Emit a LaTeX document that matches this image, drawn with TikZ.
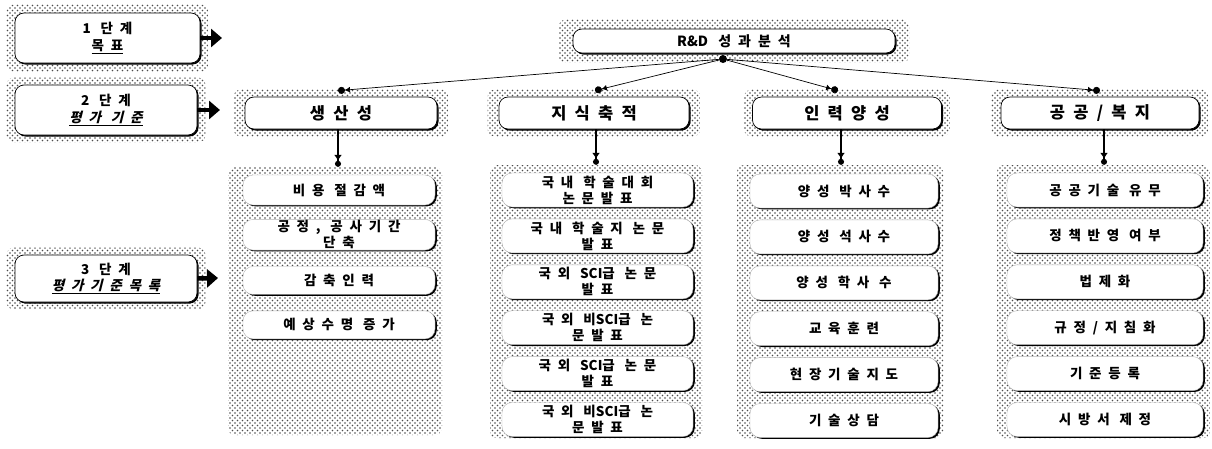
\documentclass[tikz,border=0pt]{standalone}
\usepackage{fontspec}
\setmainfont[LetterSpace=50]{Noto Sans CJK KR}
\newfontfamily\krslant[FakeSlant=0.25,LetterSpace=50]{Noto Sans CJK KR}
\newfontfamily\nols{Noto Sans CJK KR}
\usetikzlibrary{arrows.meta, positioning, patterns, shadows, fit, backgrounds}
\pgfdeclarepatternformonly{stipple}{\pgfqpoint{-1pt}{-1pt}}{\pgfqpoint{5pt}{5pt}}{\pgfqpoint{5pt}{5pt}}
{\pgfpathcircle{\pgfqpoint{0pt}{0pt}}{0.8pt}\pgfpathcircle{\pgfqpoint{2.5pt}{2.5pt}}{0.8pt}\pgfusepath{fill}}

\begin{document}
\begin{tikzpicture}[x=1pt, y=-1pt,
    dotbg/.style={rectangle, rounded corners=7pt, pattern=stipple,
                  pattern color=black!70, inner sep=0pt},
    head/.style={rectangle, rounded corners=9pt, fill=white, draw=black,
                 line width=0.7pt, inner sep=0pt,
                 drop shadow={shadow xshift=1.5pt, shadow yshift=-1.5pt, opacity=1, fill=black}},
    item/.style={rectangle, rounded corners=10pt, fill=white, draw=black!30,
                 line width=0.4pt, inner sep=1pt, align=center,
                 minimum height=34pt, font=\fontsize{13.5}{16}\selectfont\bfseries,
                 drop shadow={shadow xshift=1.8pt, shadow yshift=-1.3pt, opacity=1, fill=black}},
    stagebox/.style={head, align=center, minimum width=185pt,
                     font=\fontsize{13.5}{16.5}\selectfont\bfseries},
    link/.style={line width=0.7pt, -{Latex[length=5pt,width=6pt]Circle[length=7pt]}},
    down/.style={line width=1.2pt, -{Latex[length=6pt,width=8pt]Circle[length=6pt]}},
    stagearr/.style={line width=4.5pt, -{Triangle[length=11pt,width=18pt]}},
    node distance=11.5pt
]

% --- white frame of the page ---
\useasboundingbox (0,0) rectangle (1212,448);

% --- stages (left column) ---
\node[stagebox, minimum height=50pt] (s1) at (107.5,38)
    {1 단계\\\underline{목표}};
\node[stagebox, minimum height=50pt, minimum width=182pt] (s2) at (106,110)
    {2 단계\\\underline{\krslant 평가 기준}};
\node[stagebox, minimum height=47pt, minimum width=182pt] (s3) at (106,278.5)
    {3 단계\\\underline{\krslant 평가기준목록}};

\coordinate (s1_tip) at (222,38);
\coordinate (s2_tip) at (220,110);
\coordinate (s3_tip) at (218,278);

% --- goal ---
\node[head, minimum width=322pt, minimum height=24pt,
      font=\fontsize{14}{16}\selectfont\bfseries] (goal) at (734,41) {{\nols R\&D} 성과분석};
\node[circle, fill=black, inner sep=0pt, minimum size=8pt] (hub) at (723,59) {};

% --- criteria ---
\node[head, minimum width=192pt, minimum height=32pt,
      font=\fontsize{16.5}{18}\selectfont\bfseries] (prod) at (341,113) {생산성};
\node[head, minimum width=190pt, minimum height=32pt,
      font=\fontsize{16.5}{18}\selectfont\bfseries] (know) at (594,113) {지식축적};
\node[head, minimum width=189pt, minimum height=32pt,
      font=\fontsize{16.5}{18}\selectfont\bfseries] (hrd) at (847,113) {인력양성};
\node[head, minimum width=198pt, minimum height=32pt,
      font=\fontsize{16.5}{18}\selectfont\bfseries] (pub) at (1100,113) {공공/복지};

% --- item panels ---
\node[dotbg, minimum width=214pt, minimum height=268pt] (p1) at (335,301) {};
\node[dotbg, minimum width=212pt, minimum height=273pt] (p2) at (596,301.5) {};
\node[dotbg, minimum width=206pt, minimum height=273pt] (p3) at (840,301.5) {};
\node[dotbg, minimum width=213pt, minimum height=273pt] (p4) at (1103.5,301.5) {};

% productivity
\node[item, minimum width=192pt, minimum height=30pt,
      below=8pt of p1.north, xshift=4pt] (p1a) {비용 절감액};
\node[item, minimum width=192pt, minimum height=30pt, below=14pt of p1a] (p1b)
    {공정, 공사기간\\단축};
\node[item, minimum width=192pt, minimum height=28pt, below=16pt of p1b] (p1c) {감축인력};
\node[item, minimum width=192pt, minimum height=28pt, below=16pt of p1c] (p1d) {예상수명 증가};

% knowledge
\node[item, minimum width=191pt, below=8pt of p2.north, xshift=1.5pt] (p2a)
    {국내 학술대회\\논문발표};
\node[item, minimum width=191pt, below=of p2a] (p2b) {국내 학술지 논문\\발표};
\node[item, minimum width=191pt, below=of p2b] (p2c) {국외 {\nols SCI}급 논문\\발표};
\node[item, minimum width=191pt, below=of p2c] (p2d) {국외 비{\nols SCI}급 논\\문발표};
\node[item, minimum width=191pt, below=of p2d] (p2e) {국외 {\nols SCI}급 논문\\발표};
\node[item, minimum width=191pt, below=of p2e] (p2f) {국외 비{\nols SCI}급 논\\문발표};

% human resources
\node[item, minimum width=188pt, below=9pt of p3.north, xshift=4pt] (p3a) {양성 박사수};
\node[item, minimum width=188pt, below=of p3a] (p3b) {양성 석사수};
\node[item, minimum width=188pt, below=of p3b] (p3c) {양성 학사 수};
\node[item, minimum width=188pt, below=of p3c] (p3d) {교육훈련};
\node[item, minimum width=188pt, below=of p3d] (p3e) {현장기술지도};
\node[item, minimum width=188pt, below=of p3e] (p3f) {기술상담};

% public welfare
\node[item, minimum width=196pt, below=8pt of p4.north, xshift=1.5pt] (p4a) {공공기술 유무};
\node[item, minimum width=196pt, below=of p4a] (p4b) {정책반영 여부};
\node[item, minimum width=196pt, below=of p4b] (p4c) {법제화};
\node[item, minimum width=196pt, below=of p4c] (p4d) {규정/지침화};
\node[item, minimum width=196pt, below=of p4d] (p4e) {기준등록};
\node[item, minimum width=196pt, below=of p4e] (p4f) {시방서 제정};

% --- dotted shadows behind the boxes ---
\begin{pgfonlayer}{background}
\node[dotbg, fit=(s1), inner xsep=8pt, inner ysep=8pt] (s1_bg) {};
\node[dotbg, fit=(s2), inner xsep=8pt, inner ysep=7pt] (s2_bg) {};
\node[dotbg, fit=(s3), inner xsep=8pt, inner ysep=7pt] (s3_bg) {};
\node[dotbg, fit=(goal), inner xsep=14pt, inner ysep=9pt] (goal_bg) {};
\node[dotbg, fit=(prod), inner xsep=11pt, inner ysep=7pt] (prod_bg) {};
\node[dotbg, fit=(know), inner xsep=11pt, inner ysep=7pt] (know_bg) {};
\node[dotbg, fit=(hrd), inner xsep=8pt, inner ysep=7pt] (hrd_bg) {};
\node[dotbg, fit=(pub), inner xsep=9pt, inner ysep=7pt] (pub_bg) {};
\end{pgfonlayer}

% --- stage arrows ---
\draw[stagearr] (s1.east) -- (s1_tip);
\draw[stagearr] (s2.east) -- (s2_tip);
\draw[stagearr] (s3.east) -- (s3_tip);

% --- goal to criteria ---
\draw[link] (hub) -- ([xshift=-3pt, yshift=6pt]prod.north);
\draw[link] (hub) -- ([xshift=1pt, yshift=6pt]know.north);
\draw[link] (hub) -- ([xshift=-9pt, yshift=6pt]hrd.north);
\draw[link] (hub) -- ([yshift=6pt]pub.north);

% --- criteria to item lists ---
\draw[down] ([xshift=-3pt]prod.south) -- ([xshift=-3pt]prod.south |- p1.north);
\draw[down] ([xshift=2pt]know.south) -- ([xshift=2pt]know.south |- p2.north);
\draw[down] ([xshift=-6pt]hrd.south) -- ([xshift=-6pt]hrd.south |- p3.north);
\draw[down] ([xshift=4pt]pub.south) -- ([xshift=4pt]pub.south |- p4.north);

\end{tikzpicture}
\end{document}
